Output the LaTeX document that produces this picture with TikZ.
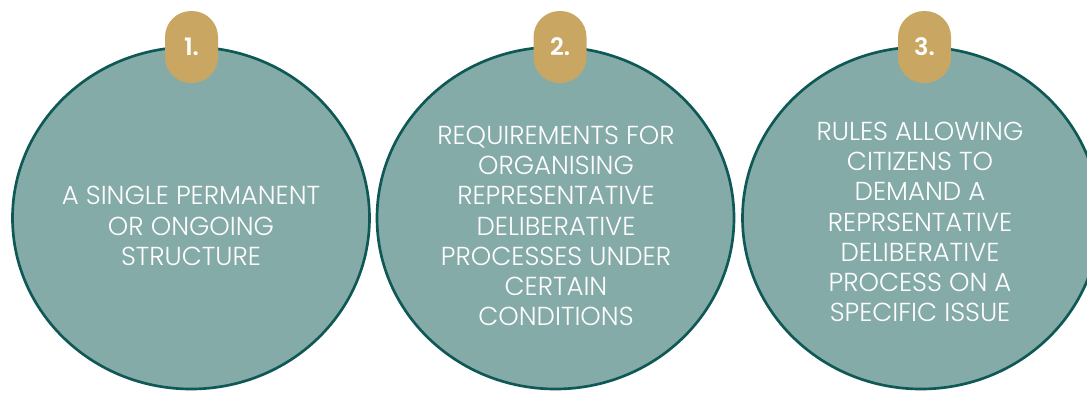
\documentclass[tikz,border=0pt]{standalone}
\usepackage{fontspec}
\setmainfont{Poppins Light}[BoldFont=Poppins SemiBold]
\usetikzlibrary{shapes.geometric}

\begin{document}
\begin{tikzpicture}[x=0.75pt, y=-0.75pt]
    \definecolor{panelfill}{RGB}{133,171,169}
    \definecolor{paneledge}{RGB}{14,88,86}
    \definecolor{badgegold}{RGB}{201,167,99}

    \tikzset{
      panel/.style={ellipse, draw=paneledge, line width=2pt, fill=panelfill,
        inner sep=0pt, minimum width=267.75pt, minimum height=256.5pt},
      badge/.style={rectangle, rounded corners=19.5pt, fill=badgegold, text=white,
        font=\bfseries\fontsize{18}{18}\selectfont, inner sep=0pt,
        minimum width=39.75pt, minimum height=54pt},
      caption/.style={align=center, text=white, inner sep=0pt,
        font=\fontsize{19.5}{22.7}\selectfont}
    }

    \useasboundingbox (0,0) rectangle (1087,394);

    \foreach \k/\px/\bx/\qx/\qy in {
      1/191/191.5/191/226,
      2/555.5/560/556/226,
      3/921/924.5/920/222
    }{
      \node[panel] (panel\k) at (\px,218) {};
      \node[badge] (badge\k) at (\bx,47) {\k.};
      \coordinate (mid\k) at (\qx,\qy);
    }

    \node[caption] (text1) at (mid1) {A SINGLE PERMANENT\\OR ONGOING\\STRUCTURE};
    \node[caption] (text2) at (mid2) {REQUIREMENTS FOR\\ORGANISING\\REPRESENTATIVE\\DELIBERATIVE\\PROCESSES UNDER\\CERTAIN\\CONDITIONS};
    \node[caption] (text3) at (mid3) {RULES ALLOWING\\CITIZENS TO\\DEMAND A\\REPRSENTATIVE\\DELIBERATIVE\\PROCESS ON A\\SPECIFIC ISSUE};
  \end{tikzpicture}
\end{document}
